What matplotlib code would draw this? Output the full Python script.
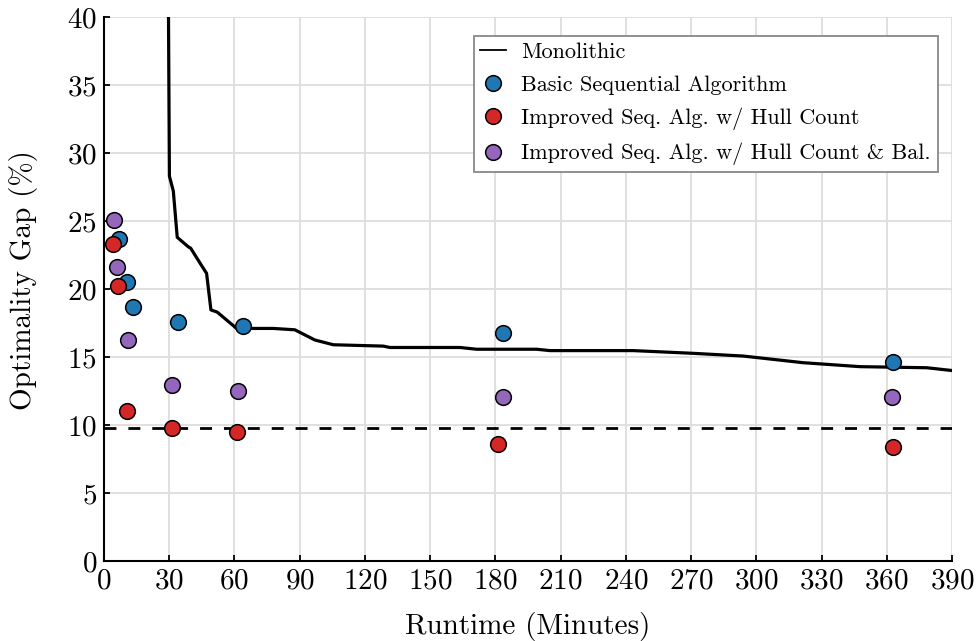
import matplotlib
matplotlib.use("Agg")
import matplotlib.pyplot as plt
from matplotlib.lines import Line2D

plt.rcParams["font.family"] = ["cmr10", "DejaVu Serif"]
plt.rcParams["mathtext.fontset"] = "cm"
plt.rcParams["axes.unicode_minus"] = False
plt.rcParams["axes.formatter.use_mathtext"] = True

# Monolithic solver: optimality gap over runtime
mono_minutes = [29.4, 30.1, 31.9, 33.7, 38.8, 39.9, 44.2, 47.2, 49.2, 52.1, 61.0,
                77.9, 87.8, 97.0, 105.5, 128.5, 131.5, 163.7, 171.4, 199.0, 205.1,
                243.4, 271.0, 294.0, 321.6, 347.7, 378.4, 390.3]
mono_gap = [48.0, 28.3, 27.2, 23.8, 23.1, 23.0, 21.9, 21.15, 18.46, 18.3, 17.1,
            17.1, 17.0, 16.25, 15.9, 15.8, 15.7, 15.7, 15.57, 15.57, 15.47,
            15.47, 15.27, 15.07, 14.58, 14.29, 14.21, 14.0]

# Sequential algorithm variants
basic_minutes = [7.0, 10.7, 13.3, 34.2, 64.1, 183.3, 363.0]
basic_gap = [23.7, 20.5, 18.65, 17.55, 17.3, 16.8, 14.66]

hull_minutes = [4.0, 6.6, 10.7, 31.1, 61.0, 181.3, 363.0]
hull_gap = [23.3, 20.2, 11.05, 9.8, 9.46, 8.6, 8.4]

bal_minutes = [4.6, 6.1, 11.2, 31.4, 61.5, 183.3, 362.2]
bal_gap = [25.1, 21.6, 16.25, 12.94, 12.52, 12.04, 12.04]

reference_gap = 9.8

x_ticks = list(range(0, 391, 30))
y_ticks = list(range(0, 41, 5))

fig = plt.figure(figsize=(9.77, 6.41), dpi=100)
ax = fig.add_axes([0.1064, 0.1248, 0.868, 0.8487])

ax.grid(True, color="#dddddd", linewidth=1.3, zorder=0)
ax.set_axisbelow(True)

ax.axhline(reference_gap, color="black", linewidth=2.0, dashes=(4.3, 4.3), zorder=2)
ax.plot(mono_minutes, mono_gap, color="black", linewidth=2.3, zorder=3)

mk = dict(linestyle="none", marker="o", markersize=11.3, markeredgecolor="black",
          markeredgewidth=1.1, zorder=4)
ax.plot(basic_minutes, basic_gap, color="#1f77b4", **mk)
ax.plot(hull_minutes, hull_gap, color="#d62728", **mk)
ax.plot(bal_minutes, bal_gap, color="#9467bd", **mk)

ax.set_xlim(0, 390)
ax.set_ylim(0, 40)
ax.set_xticks(x_ticks)
ax.set_yticks(y_ticks)
ax.tick_params(direction="in", length=4.5, width=1.3, labelsize=21, pad=5)
for side in ("top", "right"):
    ax.spines[side].set_visible(False)
for side in ("left", "bottom"):
    ax.spines[side].set_linewidth(1.5)

ax.set_xlabel("Runtime (Minutes)", fontsize=21, labelpad=13)
ax.set_ylabel("Optimality Gap (%)", fontsize=21)
ax.yaxis.set_label_coords(-0.078, 0.516)

handles = [
    Line2D([], [], color="black", linewidth=1.3),
    Line2D([], [], color="#1f77b4", **mk),
    Line2D([], [], color="#d62728", **mk),
    Line2D([], [], color="#9467bd", **mk),
]
labels = [
    "Monolithic",
    "Basic Sequential Algorithm",
    "Improved Seq. Alg. w/ Hull Count",
    "Improved Seq. Alg. w/ Hull Count & Bal.",
]
leg = ax.legend(handles, labels, loc="upper right", bbox_to_anchor=(0.983, 0.965),
                borderaxespad=0, fontsize=16.0, fancybox=False, framealpha=1,
                edgecolor="#888888", handlelength=1.17, handletextpad=0.68,
                borderpad=0.3, labelspacing=0.58)
leg.get_frame().set_linewidth(1.3)

fig.savefig("out.png", dpi=100)
